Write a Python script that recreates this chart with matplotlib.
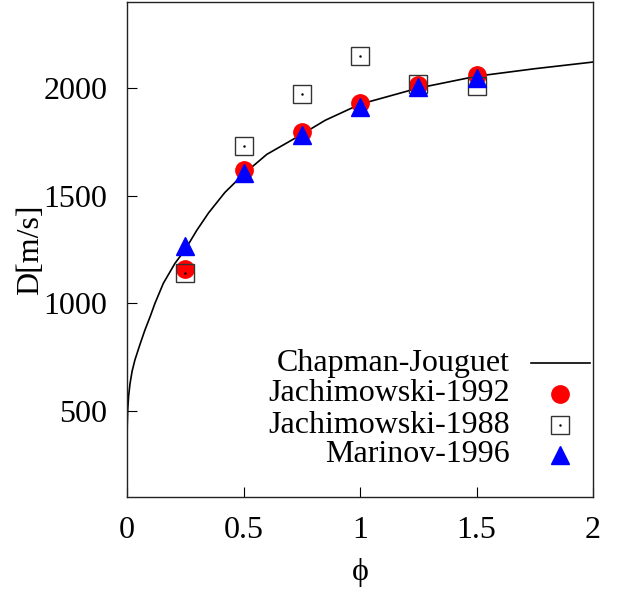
import matplotlib
matplotlib.use('Agg')
import matplotlib.pyplot as plt

plt.rcParams['font.family'] = ['Liberation Serif', 'DejaVu Serif']
plt.rcParams['font.size'] = 23

# Chapman-Jouguet curve
cj_phi = [0.0, 0.001, 0.003, 0.007, 0.013, 0.022, 0.034, 0.056, 0.077, 0.1, 0.12,
          0.156, 0.206, 0.25, 0.3, 0.35, 0.42, 0.5, 0.6, 0.75, 0.85, 1.0,
          1.25, 1.5, 1.75, 2.0]
cj_d = [340, 430, 503, 570, 627, 685, 737, 810, 876, 940, 1000,
        1093, 1186, 1250, 1340, 1420, 1515, 1600, 1692, 1785, 1850, 1925,
        2000, 2055, 2090, 2121]

phi = [0.25, 0.5, 0.75, 1.0, 1.25, 1.5]
jach_1992 = [1160, 1621, 1798, 1930, 2015, 2062]
jach_1988 = [1140, 1733, 1972, 2147, 2017, 2012]
marinov_1996 = [1268, 1607, 1783, 1914, 2003, 2046]

labels = ['Chapman-Jouguet', 'Jachimowski-1992', 'Jachimowski-1988', 'Marinov-1996']

fig = plt.figure(figsize=(6.17, 5.90), dpi=100)
ax = fig.add_axes([127 / 617, 1 - 497 / 590, 466 / 617, 495 / 590])

line_kw = dict(color='black', lw=1.2)
circ_kw = dict(marker='o', ms=12.5, color='red', ls='none', mec='red')
sq_kw = dict(marker='s', ms=12.5, mfc='none', mec='#333333', mew=1.0, ls='none')
tri_kw = dict(marker='^', ms=13, color='blue', ls='none', mec='blue')

ax.plot(cj_phi, cj_d, **line_kw)
ax.plot(phi, jach_1992, **circ_kw)
ax.plot(phi, jach_1988, **sq_kw)
ax.plot(phi, jach_1988, marker='.', ms=1.5, color='black', ls='none')
ax.plot(phi, marinov_1996, **tri_kw)

ax.set_xlim(0, 2)
ax.set_ylim(100, 2400)
ax.set_xticks([0, 0.5, 1, 1.5, 2])
ax.set_xticklabels(['0', '0.5', '1', '1.5', '2'])
ax.set_yticks([500, 1000, 1500, 2000])
ax.tick_params(direction='in', length=7, width=0.8, labelsize=23)
ax.tick_params(axis='x', pad=14)
ax.tick_params(axis='y', pad=14)
for s in ax.spines.values():
    s.set_linewidth(1.0)
    s.set_color('#222222')

ax.set_xlabel('ϕ')
ax.set_ylabel('D[m/s]')
ax.xaxis.set_label_coords(0.5, -0.152)
ax.yaxis.set_label_coords(-0.208, 0.5)
ax.xaxis.label.set_va('center')
ax.yaxis.label.set_va('center')

# key, gnuplot style: right-justified text, sample on the right
rows = [0.270, 0.209, 0.145, 0.085]
tx, sx = 0.822, 0.929
for lab, yy in zip(labels, rows):
    ax.text(tx, yy, lab, transform=ax.transAxes, ha='right', va='center', fontsize=23)
ax.plot([0.868, 0.994], [rows[0], rows[0]], transform=ax.transAxes, clip_on=False, **line_kw)
ax.plot([sx], [rows[1]], transform=ax.transAxes, clip_on=False, **circ_kw)
ax.plot([sx], [rows[2]], transform=ax.transAxes, clip_on=False, **sq_kw)
ax.plot([sx], [rows[2]], transform=ax.transAxes, clip_on=False, marker='.', ms=1.5, color='black', ls='none')
ax.plot([sx], [rows[3]], transform=ax.transAxes, clip_on=False, **tri_kw)

fig.savefig('out.png', dpi=100)
